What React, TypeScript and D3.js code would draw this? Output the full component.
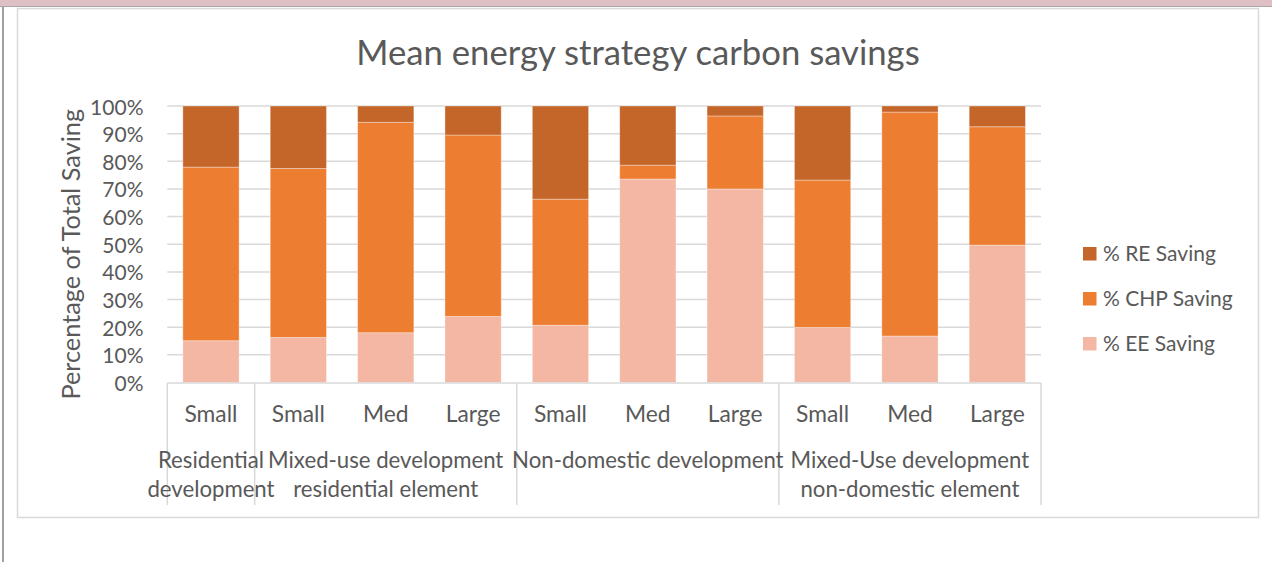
import React from "react";
import * as d3 from "d3";

// Size categories along the x axis, one per bar
const sizes = ["Small", "Small", "Med", "Large", "Small", "Med", "Large", "Small", "Med", "Large"];

// Development groups: label lines and how many size categories each spans
const groupLabels = [
  ["Residential", "development"],
  ["Mixed-use development", "residential element"],
  ["Non-domestic development"],
  ["Mixed-Use development", "non-domestic element"],
];
const groupSpans = [1, 3, 3, 3];

// Share of total saving per strategy (%), one value per bar
const eeSaving = [15.1, 16.3, 18.0, 23.9, 20.7, 73.6, 70.0, 19.9, 16.8, 49.7];
const chpSaving = [62.8, 61.1, 76.1, 65.6, 45.6, 5.0, 26.4, 53.3, 81.0, 42.8];
const reSaving = [22.1, 22.6, 5.9, 10.5, 33.7, 21.4, 3.6, 26.8, 2.2, 7.5];

const seriesKeys = ["ee", "chp", "re"];
const seriesNames = { ee: "% EE Saving", chp: "% CHP Saving", re: "% RE Saving" };
const seriesColors = { ee: "#F3B7A4", chp: "#ED7D31", re: "#C4652A" };

const yTicks = [0, 10, 20, 30, 40, 50, 60, 70, 80, 90, 100];

const W = 1272;
const H = 562;
const FONT = "Lato, 'Open Sans', sans-serif";
const TEXT = "#595959";
const GRID = "#D9D9D9";

export default function App() {
  const rows = sizes.map((s, i) => ({
    idx: String(i),
    ee: eeSaving[i],
    chp: chpSaving[i],
    re: reSaving[i],
  }));

  const x = d3
    .scaleBand<string>()
    .domain(rows.map((r) => r.idx))
    .range([167.3, 1041])
    .paddingInner(0.356)
    .paddingOuter(0.178);
  const step = x.step();
  const x0 = 167.3;

  const y = d3.scaleLinear().domain([0, 100]).range([382.5, 106]);

  const stacked = d3.stack<any>().keys(seriesKeys)(rows);

  // group boundaries in category units
  const bounds = [0];
  groupSpans.forEach((s) => bounds.push(bounds[bounds.length - 1] + s));

  const legendOrder = ["re", "chp", "ee"];

  return (
    <svg
      width={W}
      height={H}
      style={{ position: "absolute", left: 0, top: 0, background: "#fff" }}
      fontFamily={FONT}
    >
      {/* window frame */}
      <rect x={0} y={0} width={W} height={6.5} fill="#DFC0C4" />
      <line x1={0} x2={W} y1={6.5} y2={6.5} stroke="#A8A8A8" strokeWidth={1} />
      <line x1={3} x2={3} y1={7} y2={H} stroke="#A0A0A0" strokeWidth={2} />

      {/* chart area border */}
      <rect x={17.5} y={8.5} width={1241} height={509} fill="#fff" stroke={GRID} strokeWidth={1.5} />

      <text x={638} y={65} textAnchor="middle" fontSize={34.7} fill={TEXT}>
        Mean energy strategy carbon savings
      </text>

      {/* gridlines */}
      {yTicks.slice(1).map((t) => (
        <line key={t} x1={x0} x2={1041} y1={y(t)} y2={y(t)} stroke={GRID} strokeWidth={1.5} />
      ))}

      {/* y tick labels */}
      {yTicks.map((t) => (
        <text
          key={t}
          x={143.5}
          y={y(t)}
          textAnchor="end"
          dominantBaseline="central"
          fontSize={21}
          fill={TEXT}
        >
          {t}%
        </text>
      ))}

      <text
        transform={`translate(70,${(y(0) + y(100)) / 2 + 10}) rotate(-90)`}
        textAnchor="middle"
        dominantBaseline="central"
        fontSize={25.3}
        fill={TEXT}
      >
        Percentage of Total Saving
      </text>

      {/* stacked bars */}
      {stacked.map((layer) => (
        <g key={layer.key} fill={(seriesColors as any)[layer.key]}>
          {layer.map((d, i) => (
            <rect
              key={i}
              x={x(rows[i].idx)}
              width={x.bandwidth()}
              y={y(d[1])}
              height={y(d[0]) - y(d[1])}
              stroke="#fff"
              strokeOpacity={0.35}
              strokeWidth={1}
            />
          ))}
        </g>
      ))}

      {/* category axis */}
      <line x1={x0} x2={1041} y1={383} y2={383} stroke={GRID} strokeWidth={1.5} />
      {bounds.map((b) => (
        <line
          key={b}
          x1={x0 + step * b}
          x2={x0 + step * b}
          y1={383}
          y2={505}
          stroke={GRID}
          strokeWidth={1.5}
        />
      ))}
      {rows.map((r, i) => (
        <text
          key={i}
          x={(x(r.idx) as number) + x.bandwidth() / 2}
          y={421.5}
          textAnchor="middle"
          fontSize={22.8}
          fill={TEXT}
        >
          {sizes[i]}
        </text>
      ))}
      {groupLabels.map((lines, g) => {
        const cx = x0 + step * ((bounds[g] + bounds[g + 1]) / 2);
        return (
          <text key={g} x={cx} y={467.5} textAnchor="middle" fontSize={22.2} fill={TEXT}>
            {lines.map((l, k) => (
              <tspan key={k} x={cx} dy={k === 0 ? 0 : 29}>
                {l}
              </tspan>
            ))}
          </text>
        );
      })}

      {/* legend */}
      {legendOrder.map((k, i) => (
        <g key={k} transform={`translate(1083,${247 + i * 45})`}>
          <rect width={13.5} height={13.5} fill={(seriesColors as any)[k]} />
          <text x={20} y={13.5} fontSize={21} fill={TEXT}>
            {(seriesNames as any)[k]}
          </text>
        </g>
      ))}
    </svg>
  );
}
